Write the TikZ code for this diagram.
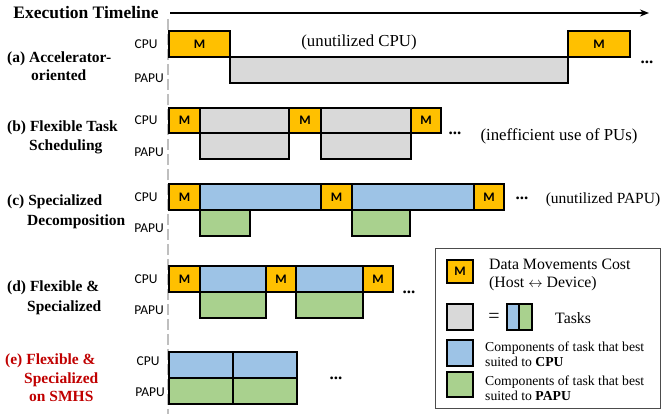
\documentclass[tikz,border=0pt]{standalone}
\usepackage{fontspec}
\setmainfont{Liberation Serif}
\newfontfamily\calib{Carlito}
\usetikzlibrary{arrows.meta}
\definecolor{mcol}{HTML}{FFC000}
\definecolor{gcol}{HTML}{D9D9D9}
\definecolor{bcol}{HTML}{9DC3E6}
\definecolor{ncol}{HTML}{A9D18E}
\definecolor{redlbl}{HTML}{C00000}
\tikzset{
  box/.style={draw=black, line width=1.5pt, inner sep=0pt, outer sep=0pt},
  mbox/.style={box, fill=mcol, font=\calib\bfseries\fontsize{13}{14}\selectfont},
  gbox/.style={box, fill=gcol},
  bbox/.style={box, fill=bcol},
  nbox/.style={box, fill=ncol},
  pu/.style={font=\calib\fontsize{13.5}{14}\selectfont, inner sep=0pt},
  rowlbl/.style={font=\bfseries\fontsize{15.5}{17.5}\selectfont, inner sep=0pt, anchor=base west},
  note/.style={font=\fontsize{16.8}{18}\selectfont, inner sep=0pt},
  dots/.style={font=\bfseries\fontsize{17}{18}\selectfont, inner sep=0pt},
  legtxt/.style={font=\fontsize{15.8}{17.5}\selectfont, inner sep=0pt, anchor=west, align=left},
  legsm/.style={font=\fontsize{13.7}{15.5}\selectfont, inner sep=0pt, anchor=west, align=left},
}
% \blk{name}{style}{x1}{y1}{x2}{y2}{text}
\newcommand\blk[7]{\node[#2, minimum width={#5-#3}, minimum height={#6-#4}] (#1) at ({(#3+#5)/2},{(#4+#6)/2}) {#7};}
\begin{document}
\begin{tikzpicture}[x=1pt, y=-1pt]
\useasboundingbox (0,0) rectangle (665,414);

% timeline axis
\node[font=\bfseries\fontsize{17.5}{19}\selectfont, inner sep=0pt] (title) at (86,13) {Execution Timeline};
\coordinate (axs) at (170,13);
\coordinate (axe) at (649,13);
\draw[line width=1.6pt, -{Stealth[length=9pt, width=7pt]}] (axs) -- (axe);
\coordinate (vs) at (168,19);
\coordinate (ve) at (168,414);
\draw[gray!50, line width=2.6pt, dash pattern=on 11pt off 4pt] (vs) -- (ve);

% (a) accelerator-oriented
\node[rowlbl] (la1) at (7,63) {(a) Accelerator-};
\node[rowlbl] (la2) at (31,81) {oriented};
\node[pu] (ca) at (146,44) {CPU};
\node[pu] (pa) at (149,78) {PAPU};
\blk{am1}{mbox}{169}{31}{230}{57}{M}
\blk{ag}{gbox}{230}{57}{568}{83}{}
\blk{am2}{mbox}{568}{31}{630}{57}{M}
\node[note] (ua) at (359,42) {(unutilized CPU)};
\node[dots] (da) at (647,62) {...};

% (b) flexible task scheduling
\node[rowlbl] (lb1) at (7,132) {(b) Flexible Task};
\node[rowlbl] (lb2) at (29,151) {Scheduling};
\node[pu] (cb) at (146,120) {CPU};
\node[pu] (pb) at (149,152) {PAPU};
\blk{bm1}{mbox}{169}{108}{200}{133}{M}
\blk{bg1}{gbox}{200}{108}{289}{133}{}
\blk{bm2}{mbox}{289}{108}{321}{133}{M}
\blk{bg2}{gbox}{321}{108}{411}{133}{}
\blk{bm3}{mbox}{411}{108}{441}{133}{M}
\blk{bp1}{gbox}{200}{133}{289}{159}{}
\blk{bp2}{gbox}{321}{133}{411}{159}{}
\node[dots] (db) at (455,133) {...};
\node[note] (ub) at (559,136) {(inefficient use of PUs)};

% (c) specialized decomposition
\node[rowlbl] (lc1) at (7,206) {(c) Specialized};
\node[rowlbl] (lc2) at (27,226) {Decomposition};
\node[pu] (cc) at (146,197) {CPU};
\node[pu] (pc) at (149,228) {PAPU};
\blk{cm1}{mbox}{169}{184}{200}{210}{M}
\blk{cb1}{bbox}{200}{184}{321}{210}{}
\blk{cm2}{mbox}{321}{184}{352}{210}{M}
\blk{cb2}{bbox}{352}{184}{474}{210}{}
\blk{cm3}{mbox}{474}{184}{504}{210}{M}
\blk{cn1}{nbox}{200}{210}{250}{236}{}
\blk{cn2}{nbox}{352}{210}{410}{236}{}
\node[dots] (dc) at (522,198) {...};
\node[font=\fontsize{15.5}{17}\selectfont, inner sep=0pt] (uc) at (603,200) {(unutilized PAPU)};

% (d) flexible & specialized
\node[rowlbl] (ld1) at (7,292) {(d) Flexible \&};
\node[rowlbl] (ld2) at (27,312) {Specialized};
\node[pu] (cd) at (146,279) {CPU};
\node[pu] (pd) at (149,310) {PAPU};
\blk{dm1}{mbox}{169}{266}{200}{292}{M}
\blk{db1}{bbox}{200}{266}{266}{292}{}
\blk{dm2}{mbox}{266}{266}{296}{292}{M}
\blk{db2}{bbox}{296}{266}{363}{292}{}
\blk{dm3}{mbox}{363}{266}{393}{292}{M}
\blk{dn1}{nbox}{200}{292}{266}{318}{}
\blk{dn2}{nbox}{296}{292}{363}{318}{}
\node[dots] (dd) at (409,292) {...};

% (e) flexible & specialized on SMHS
\node[rowlbl, text=redlbl] (le1) at (5,365) {(e) Flexible \&};
\node[rowlbl, text=redlbl] (le2) at (24,384) {Specialized};
\node[rowlbl, text=redlbl] (le3) at (29,402) {on SMHS};
\node[pu] (ce) at (148,361) {CPU};
\node[pu] (pe) at (150,392) {PAPU};
\blk{eb1}{bbox}{169}{352}{233}{378}{}
\blk{eb2}{bbox}{233}{352}{297}{378}{}
\blk{en1}{nbox}{169}{378}{233}{404}{}
\blk{en2}{nbox}{233}{378}{297}{404}{}
\node[dots] (de) at (336,378) {...};

% legend
\blk{leg}{draw=black!70, line width=0.8pt, fill=white, inner sep=0pt}{435}{248}{660}{408}{}
\blk{lm}{mbox}{447}{260}{473}{283}{M}
\node[legtxt] (lmt) at (489,275) {Data Movements Cost\\(Host $\leftrightarrow$ Device)};
\blk{lg}{gbox}{447}{304}{473}{330}{}
\node[font=\fontsize{20}{20}\selectfont, inner sep=0pt] (leq) at (494,318) {=};
\blk{lsb}{bbox}{507}{304}{519}{330}{}
\blk{lsn}{nbox}{519}{304}{532}{330}{}
\node[legtxt] (ltk) at (555,318) {Tasks};
\blk{lb}{bbox}{447}{340}{473}{366}{}
\node[legsm] (lbt) at (485,354) {Components of task that best\\suited to \textbf{CPU}};
\blk{ln}{nbox}{447}{372}{473}{397}{}
\node[legsm] (lnt) at (485,388) {Components of task that best\\suited to \textbf{PAPU}};
\end{tikzpicture}
\end{document}
